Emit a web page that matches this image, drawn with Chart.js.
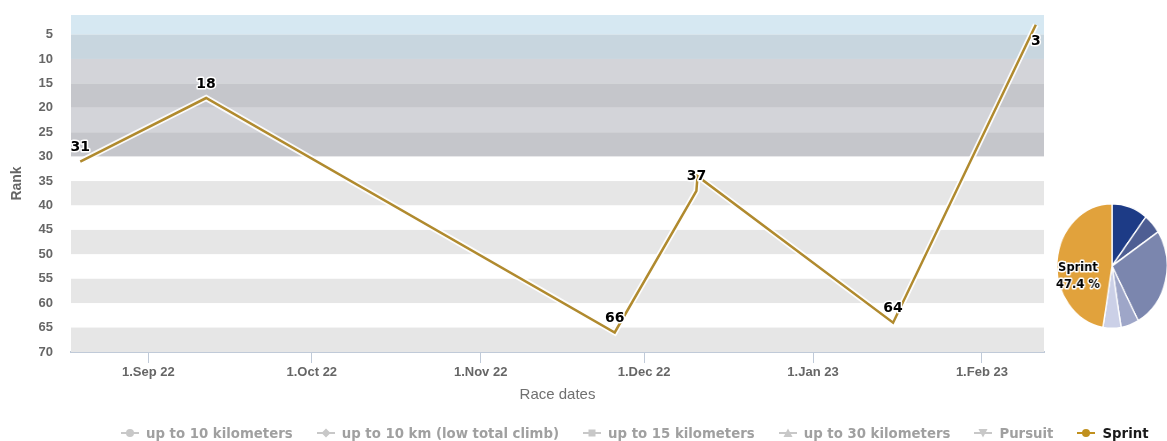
<!DOCTYPE html>
<html>
<head>
<meta charset="utf-8">
<script src="https://cdn.jsdelivr.net/npm/chart.js@4.4.1/dist/chart.umd.min.js"></script>
<style>
  html, body { margin: 0; padding: 0; background: #fff; }
  #wrap { position: relative; width: 1167px; height: 441px; overflow: hidden; }
  #main { position: absolute; left: 0; top: 0; }
  #pieBox { position: absolute; left: 1049px; top: 203px; width: 126px; height: 126px;
            transform: scaleX(0.885); transform-origin: 63px 63px; }
  #legend { position: absolute; left: 121px; top: 424px; height: 18px; display: flex; align-items: center;
            font: bold 13.3px "DejaVu Sans", sans-serif; white-space: nowrap; }
  .item { display: flex; align-items: center; margin-right: 24px; color: #a0a0a0; }
  .item svg { margin-right: 7px; }
  .item.on { color: #1a1a1a; }
</style>
</head>
<body>
<div id="wrap">
  <canvas id="main" width="1167" height="441"></canvas>
  <div id="pieBox"><canvas id="pie" width="126" height="126"></canvas></div>
  <div id="legend"></div>
</div>
<script>
// days counted from 1 Sep 2022
const monthStarts = [0, 30, 61, 91, 122, 153];
const monthLabels = ['1.Sep 22', '1.Oct 22', '1.Nov 22', '1.Dec 22', '1.Jan 23', '1.Feb 23'];
const raceDays = [-12.5, 10.6, 85.6, 100.6, 100.8, 136.7, 162.9];
const sprintRanks = [31, 18, 66, 37, 34, 64, 3];
const shownLabels = [true, true, true, true, false, true, true];
const rankTicks = [5, 10, 15, 20, 25, 30, 35, 40, 45, 50, 55, 60, 65, 70];
const seriesNames = ['up to 10 kilometers', 'up to 10 km (low total climb)', 'up to 15 kilometers',
                     'up to 30 kilometers', 'Pursuit', 'Sprint'];
const raceCounts = [2, 1, 5, 1, 1, 9];

const gold = '#b08a2e';
const axisFont = { family: '"Liberation Sans", Arial, sans-serif', size: 13, weight: 'bold' };

// alternating rank bands, coloured by zone
const bandPlugin = {
  id: 'bands',
  beforeDatasetsDraw(chart, args, opts) {
    const { ctx, chartArea: a, scales: { y } } = chart;
    const edges = [y.min, ...rankTicks];
    ctx.save();
    for (let i = 0; i < edges.length - 1; i++) {
      const lo = edges[i], hi = edges[i + 1];
      const zone = opts.zones.find(z => lo >= z.from && lo < z.to);
      ctx.fillStyle = lo % 10 === 5 ? zone.dark : zone.light;
      const y1 = y.getPixelForValue(lo), y2 = y.getPixelForValue(hi);
      ctx.fillRect(a.left, y1, a.right - a.left, y2 - y1);
    }
    ctx.restore();
  }
};

const pointLabels = {
  id: 'pointLabels',
  afterDatasetsDraw(chart) {
    const { ctx, chartArea } = chart;
    const meta = chart.getDatasetMeta(0);
    ctx.save();
    ctx.font = 'bold 14px "DejaVu Sans", sans-serif';
    ctx.textAlign = 'center';
    ctx.textBaseline = 'middle';
    ctx.lineJoin = 'round';
    ctx.lineWidth = 3;
    ctx.strokeStyle = '#fff';
    ctx.fillStyle = '#000';
    meta.data.forEach((pt, i) => {
      if (!shownLabels[i]) return;
      let ly = pt.y - 14;
      if (ly - 7 < chartArea.top) ly = pt.y + 17;
      const t = String(sprintRanks[i]);
      ctx.strokeText(t, pt.x, ly);
      ctx.fillText(t, pt.x, ly);
    });
    ctx.restore();
  }
};

const points = raceDays.map((d, i) => ({ x: d, y: sprintRanks[i] }));

new Chart(document.getElementById('main'), {
  type: 'line',
  data: {
    datasets: [
      { label: 'Sprint', data: points, borderColor: gold, borderWidth: 2.5, pointRadius: 0, tension: 0 },
      { label: 'halo', data: points, borderColor: 'rgba(255,255,255,0.9)', borderWidth: 6, pointRadius: 0, tension: 0 }
    ]
  },
  options: {
    responsive: false,
    animation: false,
    layout: { padding: { top: 15, right: 123, bottom: 29, left: 0 } },
    plugins: {
      legend: { display: false },
      tooltip: { enabled: false },
      bands: {
        zones: [
          { from: 1, to: 10, light: '#d6e8f2', dark: '#c8d6df' },
          { from: 10, to: 30, light: '#d3d4d9', dark: '#c5c6cb' },
          { from: 30, to: 71, light: '#ffffff', dark: '#e6e6e6' }
        ]
      }
    },
    scales: {
      x: {
        type: 'linear', min: -14.2, max: 164.4,
        afterBuildTicks: s => { s.ticks = monthStarts.map(v => ({ value: v })); },
        afterFit: s => { s.height = 60; },
        grid: { drawOnChartArea: false, drawTicks: true, tickLength: 11, color: '#c0cad8' },
        border: { color: '#c0cad8', width: 2 },
        ticks: { callback: (v, i) => monthLabels[i], color: '#666', font: axisFont, padding: 2,
                 maxRotation: 0, autoSkip: false },
        title: { display: true, text: 'Race dates', color: '#707070',
                 font: { family: '"Liberation Sans", Arial, sans-serif', size: 15 }, padding: { top: 0, bottom: 8 } }
      },
      y: {
        type: 'linear', reverse: true, min: 1, max: 70,
        afterBuildTicks: s => { s.ticks = rankTicks.map(v => ({ value: v })); },
        afterFit: s => { s.width = 71; s.paddingTop = 0; s.paddingBottom = 0; },
        grid: { display: false },
        border: { display: false },
        ticks: { color: '#666', font: axisFont, padding: 10 },
        title: { display: true, text: 'Rank', color: '#666',
                 font: { family: '"Liberation Sans", Arial, sans-serif', size: 14, weight: 'bold' },
                 padding: { top: 9, bottom: 0 } }
      }
    }
  },
  plugins: [bandPlugin, pointLabels]
});

// share of races per discipline
const sliceColors = ['#1d3b86', '#4e5e93', '#7b86ae', '#9ea6c8', '#cbd0e7', '#e1a23c'];
const total = raceCounts.reduce((a, b) => a + b, 0);

const pieLabel = {
  id: 'pieLabel',
  afterDatasetsDraw(chart) {
    const { ctx } = chart;
    const i = raceCounts.length - 1;
    const arc = chart.getDatasetMeta(0).data[i];
    const mid = (arc.startAngle + arc.endAngle) / 2;
    const r = arc.outerRadius * 0.62;
    const x = arc.x + Math.cos(mid) * r, y = arc.y + Math.sin(mid) * r;
    ctx.save();
    ctx.font = 'bold 13px "DejaVu Sans", sans-serif';
    ctx.textAlign = 'center';
    ctx.textBaseline = 'middle';
    ctx.lineJoin = 'round';
    ctx.lineWidth = 3;
    ctx.strokeStyle = '#fff';
    ctx.fillStyle = '#000';
    const pct = (raceCounts[i] / total * 100).toFixed(1) + ' %';
    [[seriesNames[i], y + 5], [pct, y + 22]].forEach(([t, ty]) => {
      ctx.strokeText(t, x, ty);
      ctx.fillText(t, x, ty);
    });
    ctx.restore();
  }
};

new Chart(document.getElementById('pie'), {
  type: 'pie',
  data: {
    labels: seriesNames,
    datasets: [{ data: raceCounts, backgroundColor: sliceColors, borderColor: '#fff', borderWidth: 1.5 }]
  },
  options: {
    responsive: false,
    animation: false,
    layout: { padding: 0 },
    plugins: { legend: { display: false }, tooltip: { enabled: false } }
  },
  plugins: [pieLabel]
});

// legend under the chart
const markers = [
  '<circle cx="9" cy="6" r="4"/>',
  '<polygon points="9,1.5 13.5,6 9,10.5 4.5,6"/>',
  '<rect x="5.5" y="2.5" width="7" height="7"/>',
  '<polygon points="9,1.5 13.5,10 4.5,10"/>',
  '<polygon points="4.5,2 13.5,2 9,10.5"/>',
  '<circle cx="9" cy="6" r="4"/>'
];
const legend = document.getElementById('legend');
seriesNames.forEach((name, i) => {
  const on = i === seriesNames.length - 1;
  const c = on ? '#c0901e' : '#c8c8c8';
  const el = document.createElement('div');
  el.className = 'item' + (on ? ' on' : '');
  el.innerHTML = `<svg width="18" height="12" fill="${c}" stroke="none"><line x1="0" y1="6" x2="18" y2="6" stroke="${c}" stroke-width="2"/>${markers[i]}</svg><span>${name}</span>`;
  legend.appendChild(el);
});
</script>
</body>
</html>
